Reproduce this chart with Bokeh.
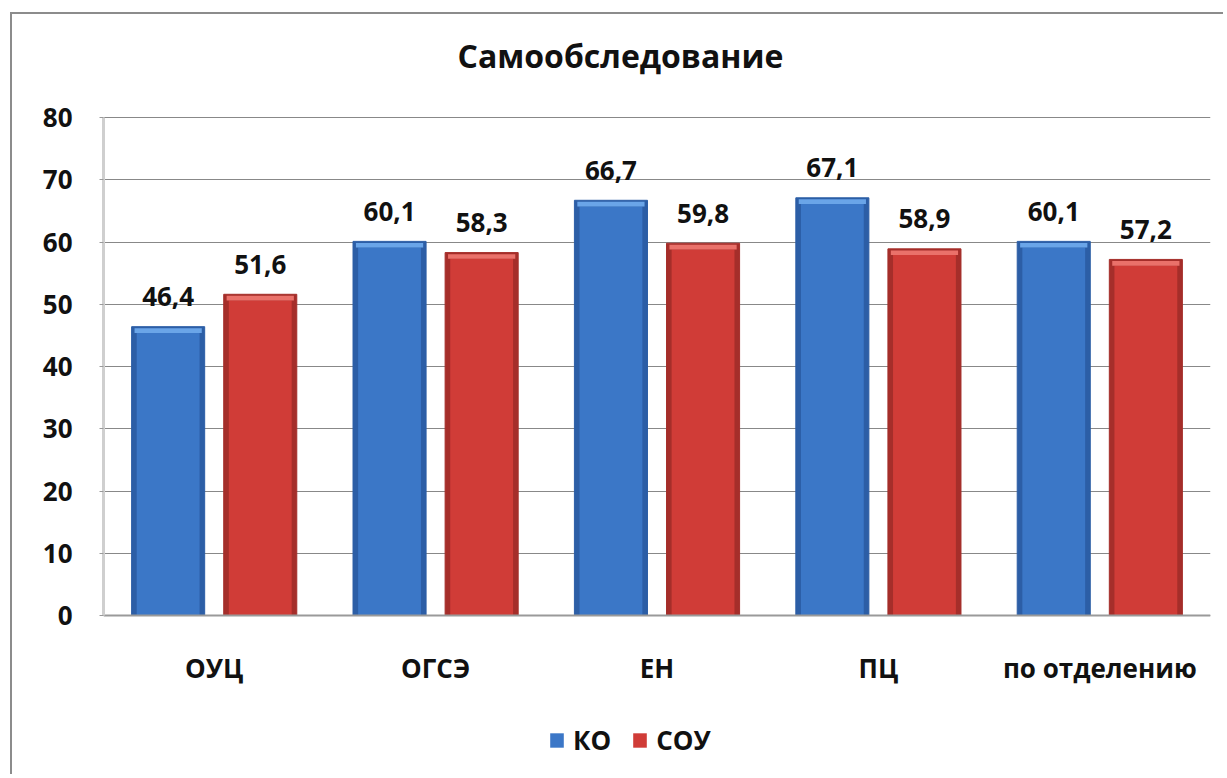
from bokeh.plotting import figure
from bokeh.models import (ColumnDataSource, FactorRange, Range1d, FixedTicker,
                          Legend, LegendItem, Label)
from bokeh.transform import dodge
from bokeh.core.properties import value
from bokeh.embed import file_html
from bokeh.resources import INLINE

# ---- data ----
categories = ["ОУЦ", "ОГСЭ", "ЕН", "ПЦ", "по отделению"]
ko_values = [46.4, 60.1, 66.7, 67.1, 60.1]
sou_values = [51.6, 58.3, 59.8, 58.9, 57.2]
series_names = ["КО", "СОУ"]
y_ticks = [0, 10, 20, 30, 40, 50, 60, 70, 80]
title_text = "Самообследование"

FONT = "Open Sans"
BLUE_DARK, BLUE, BLUE_LIGHT = "#2c5ea6", "#3b77c7", "#6aa5e8"
RED_DARK, RED, RED_LIGHT = "#a52e2a", "#d03c37", "#ea716a"

src = ColumnDataSource(dict(
    cat=categories,
    ko=ko_values,
    sou=sou_values,
    ko_lbl=[f"{v:.1f}".replace(".", ",") for v in ko_values],
    sou_lbl=[f"{v:.1f}".replace(".", ",") for v in sou_values],
    ko_hi_b=[v - 1.0 for v in ko_values],
    sou_hi_b=[v - 1.0 for v in sou_values],
    ko_hi_t=[v - 0.25 for v in ko_values],
    sou_hi_t=[v - 0.25 for v in sou_values],
))

# layout (pixels): plot area from 0 at canvas y=601 up to 80 at canvas y=103
W_PX, H_PX = 1213, 762
LEFT, RIGHT_PAD, BOTTOM_PAD = 91, 15, 6
Y_TOP_PX, Y_ZERO_PX = 103, 601
px_per_unit = (Y_ZERO_PX - Y_TOP_PX) / y_ticks[-1]
y_end = y_ticks[-1] + Y_TOP_PX / px_per_unit
y_start = -((H_PX - BOTTOM_PAD) - Y_ZERO_PX) / px_per_unit

p = figure(
    x_range=FactorRange(*categories, range_padding=0),
    y_range=Range1d(y_start, y_end),
    width=W_PX, height=H_PX,
    output_backend="svg", toolbar_location=None,
    min_border_left=LEFT, min_border_top=0, min_border_right=RIGHT_PAD,
    min_border_bottom=BOTTOM_PAD,
)
p.styles = {"margin-left": "10px", "margin-top": "12px",
            "border-top": "2px solid #8c8c8c", "border-left": "2px solid #8c8c8c"}
p.outline_line_color = None
p.background_fill_color = "white"
p.border_fill_color = "white"

OFF = 0.208
W = 0.33

# KO bars
p.vbar(x=dodge("cat", -OFF, range=p.x_range), top="ko", width=W, source=src,
       fill_color=BLUE_DARK, line_color=BLUE_DARK, line_width=1)
r_ko = p.vbar(x=dodge("cat", -OFF, range=p.x_range), top="ko_hi_b", width=W * 0.86, source=src,
              fill_color=BLUE, line_color=None)
p.vbar(x=dodge("cat", -OFF, range=p.x_range), top="ko_hi_t", bottom="ko_hi_b", width=W * 0.92,
       source=src, fill_color=BLUE_LIGHT, line_color=None)
# SOU bars
p.vbar(x=dodge("cat", OFF, range=p.x_range), top="sou", width=W, source=src,
       fill_color=RED_DARK, line_color=RED_DARK, line_width=1)
r_sou = p.vbar(x=dodge("cat", OFF, range=p.x_range), top="sou_hi_b", width=W * 0.86, source=src,
               fill_color=RED, line_color=None)
p.vbar(x=dodge("cat", OFF, range=p.x_range), top="sou_hi_t", bottom="sou_hi_b", width=W * 0.92,
       source=src, fill_color=RED_LIGHT, line_color=None)

# value labels
for col, off in (("ko", -OFF), ("sou", OFF)):
    p.text(x=dodge("cat", off, range=p.x_range), y=col, text=f"{col}_lbl", source=src,
           text_font=value(FONT), text_font_style="bold", text_font_size="26px",
           text_color="#111111", text_align="center", text_baseline="alphabetic",
           y_offset=-30)

# y axis
p.yaxis.ticker = FixedTicker(ticks=y_ticks)
p.yaxis.bounds = (y_ticks[0], y_ticks[-1])
p.yaxis.minor_tick_line_color = None
p.yaxis.major_tick_out = 4
p.yaxis.major_tick_in = 0
p.yaxis.major_tick_line_color = "#9a9a9a"
p.yaxis.axis_line_color = "#cfcfcf"
p.yaxis.axis_line_width = 3
p.yaxis.major_label_standoff = 27
p.yaxis.major_label_text_font = FONT
p.yaxis.major_label_text_font_style = "bold"
p.yaxis.major_label_text_font_size = "26px"
p.yaxis.major_label_text_color = "#111111"

# x axis sits on the value 0
p.xaxis.fixed_location = 0
p.xaxis.major_tick_line_color = None
p.xaxis.major_tick_out = 0
p.xaxis.major_tick_in = 0
p.xaxis.minor_tick_line_color = None
p.xaxis.axis_line_color = "#9a9a9a"
p.xaxis.axis_line_width = 2
p.xaxis.major_label_standoff = 34
p.xaxis.major_label_text_font = FONT
p.xaxis.major_label_text_font_style = "bold"
p.xaxis.major_label_text_font_size = "26px"
p.xaxis.major_label_text_color = "#111111"

p.xgrid.grid_line_color = None
p.ygrid.grid_line_color = "#888888"
p.ygrid.grid_line_width = 1

# title
p.add_layout(Label(x=606, y=39, x_units="canvas", y_units="canvas", text=title_text,
                   text_font=FONT, text_font_style="bold", text_font_size="32px",
                   text_color="#111111", text_align="center", text_baseline="alphabetic"))

# legend
legend = Legend(items=[LegendItem(label=series_names[0], renderers=[r_ko]),
                       LegendItem(label=series_names[1], renderers=[r_sou])],
                location=(445, 12), orientation="horizontal",
                glyph_width=17, glyph_height=18, label_standoff=8, spacing=20,
                padding=0, margin=0, border_line_color=None, background_fill_alpha=0,
                label_text_font=FONT, label_text_font_style="bold",
                label_text_font_size="26px", label_text_color="#111111")
p.add_layout(legend)

open("out.html", "w").write(file_html(p, INLINE))
